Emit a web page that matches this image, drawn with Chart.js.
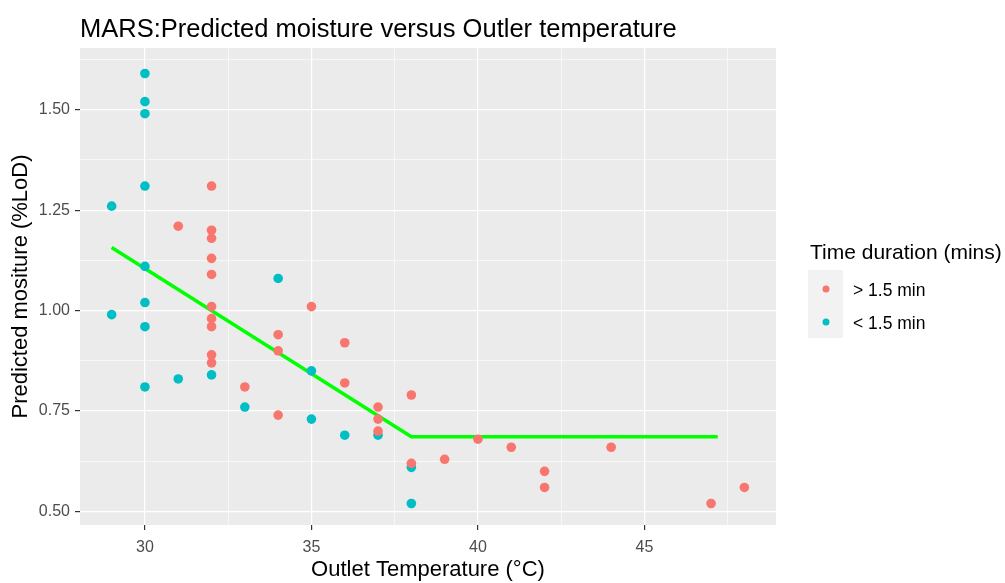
<!DOCTYPE html>
<html>
<head>
<meta charset="utf-8">
<script src="https://cdn.jsdelivr.net/npm/chart.js@4/dist/chart.umd.min.js"></script>
<style>
  body { margin: 0; background: #fff; }
  #wrap { width: 1005px; height: 583px; }
</style>
</head>
<body>
<div id="wrap"><canvas id="marsChart" width="1005" height="583"></canvas></div>
<script>
// Outlet temperature vs predicted moisture, split by drying time
const longX = [31, 32, 32, 32, 32, 32, 32, 32, 32, 32, 32, 33, 34, 34, 34, 35, 36, 36, 37, 37, 37, 38, 38, 39, 40, 41, 42, 42, 44, 47, 48];
const longY = [1.21, 1.31, 1.20, 1.18, 1.13, 1.09, 1.01, 0.98, 0.96, 0.89, 0.87, 0.81, 0.94, 0.90, 0.74, 1.01, 0.92, 0.82, 0.76, 0.73, 0.70, 0.79, 0.62, 0.63, 0.68, 0.66, 0.60, 0.56, 0.66, 0.52, 0.56];

const shortX = [29, 29, 30, 30, 30, 30, 30, 30, 30, 30, 31, 32, 33, 34, 35, 35, 36, 37, 38, 38];
const shortY = [1.26, 0.99, 1.59, 1.52, 1.49, 1.31, 1.11, 1.02, 0.96, 0.81, 0.83, 0.84, 0.76, 1.08, 0.85, 0.73, 0.69, 0.69, 0.61, 0.52];

// MARS fit (hinge at 38)
const fitX = [29, 38, 47.2];
const fitY = [1.157, 0.686, 0.686];

const seriesNames = ["> 1.5 min", "< 1.5 min"];
const seriesColors = ["#F8766D", "#00BFC4"];

const xMajor = [30, 35, 40, 45];
const xMinor = [32.5, 37.5, 42.5, 47.5];
const yMajor = [0.50, 0.75, 1.00, 1.25, 1.50];
const yMinor = [0.625, 0.875, 1.125, 1.375, 1.625];

const toPoints = (xs, ys) => xs.map((x, i) => ({ x: x, y: ys[i] }));
const isMajor = (list, v) => list.some(m => Math.abs(m - v) < 1e-6);

const FONT = "'Liberation Sans', Arial, sans-serif";

const panelBg = {
    id: "panelBg",
    beforeDraw(chart) {
        const { ctx, chartArea: a } = chart;
        ctx.save();
        ctx.fillStyle = "#EBEBEB";
        ctx.fillRect(a.left, a.top, a.right - a.left, a.bottom - a.top);
        ctx.restore();
    }
};

const titleAndLegend = {
    id: "titleAndLegend",
    afterDraw(chart) {
        const ctx = chart.ctx;
        ctx.save();
        ctx.fillStyle = "#000";
        ctx.textBaseline = "alphabetic";
        ctx.font = "25.5px " + FONT;
        ctx.fillText("MARS:Predicted moisture versus Outler temperature", 80, 37);

        ctx.font = "21px " + FONT;
        ctx.fillText("Time duration (mins)", 810, 259);

        ctx.fillStyle = "#F2F2F2";
        ctx.fillRect(808, 270, 35, 68);
        ctx.font = "17.5px " + FONT;
        seriesNames.forEach((name, i) => {
            const cy = 289 + i * 33;
            ctx.fillStyle = seriesColors[i];
            ctx.beginPath();
            ctx.arc(826, cy, 3.5, 0, Math.PI * 2);
            ctx.fill();
            ctx.fillStyle = "#000";
            ctx.fillText(name, 853, cy + 7);
        });
        ctx.restore();
    }
};

new Chart(document.getElementById("marsChart").getContext("2d"), {
    type: "scatter",
    data: {
        datasets: [{
                label: seriesNames[0],
                data: toPoints(longX, longY),
                backgroundColor: seriesColors[0],
                borderWidth: 0,
                pointRadius: 4.8
            },
            {
                label: seriesNames[1],
                data: toPoints(shortX, shortY),
                backgroundColor: seriesColors[1],
                borderWidth: 0,
                pointRadius: 4.8
            },
            {
                label: "fit",
                type: "line",
                data: toPoints(fitX, fitY),
                borderColor: "#00FF00",
                borderWidth: 3.5,
                pointRadius: 0,
                fill: false,
                tension: 0
            }
        ]
    },
    options: {
        responsive: false,
        animation: false,
        layout: { padding: { left: 0, right: 229, top: 48, bottom: 0 } },
        plugins: {
            legend: { display: false },
            tooltip: { enabled: false }
        },
        scales: {
            x: {
                type: "linear",
                min: 28.05,
                max: 48.95,
                afterFit(scale) { scale.height = 58; },
                afterBuildTicks(scale) {
                    scale.ticks = xMajor.concat(xMinor).sort((a, b) => a - b).map(v => ({ value: v }));
                },
                border: { display: false },
                grid: {
                    color: "#FFFFFF",
                    lineWidth: c => isMajor(xMajor, c.tick.value) ? 1.2 : 0.6,
                    tickColor: c => isMajor(xMajor, c.tick.value) ? "#333333" : "rgba(0,0,0,0)",
                    tickLength: 5
                },
                ticks: {
                    autoSkip: false,
                    maxRotation: 0,
                    padding: 8,
                    color: "#4D4D4D",
                    font: { family: FONT, size: 16 },
                    callback: v => isMajor(xMajor, v) ? String(v) : ""
                },
                title: {
                    display: true,
                    text: "Outlet Temperature (°C)",
                    color: "#000",
                    font: { family: FONT, size: 22 },
                    padding: { top: 0, bottom: 0 }
                }
            },
            y: {
                type: "linear",
                min: 0.4665,
                max: 1.6535,
                afterFit(scale) { scale.width = 80; },
                afterBuildTicks(scale) {
                    scale.ticks = yMajor.concat(yMinor).sort((a, b) => a - b).map(v => ({ value: v }));
                },
                border: { display: false },
                grid: {
                    color: "#FFFFFF",
                    lineWidth: c => isMajor(yMajor, c.tick.value) ? 1.2 : 0.6,
                    tickColor: c => isMajor(yMajor, c.tick.value) ? "#333333" : "rgba(0,0,0,0)",
                    tickLength: 5
                },
                ticks: {
                    autoSkip: false,
                    padding: 5,
                    color: "#4D4D4D",
                    font: { family: FONT, size: 16 },
                    callback: v => isMajor(yMajor, v) ? v.toFixed(2) : ""
                },
                title: {
                    display: true,
                    text: "Predicted mositure (%LoD)",
                    color: "#000",
                    font: { family: FONT, size: 22 },
                    padding: { top: 8, bottom: 0 }
                }
            }
        }
    },
    plugins: [panelBg, titleAndLegend]
});
</script>
</body>
</html>
